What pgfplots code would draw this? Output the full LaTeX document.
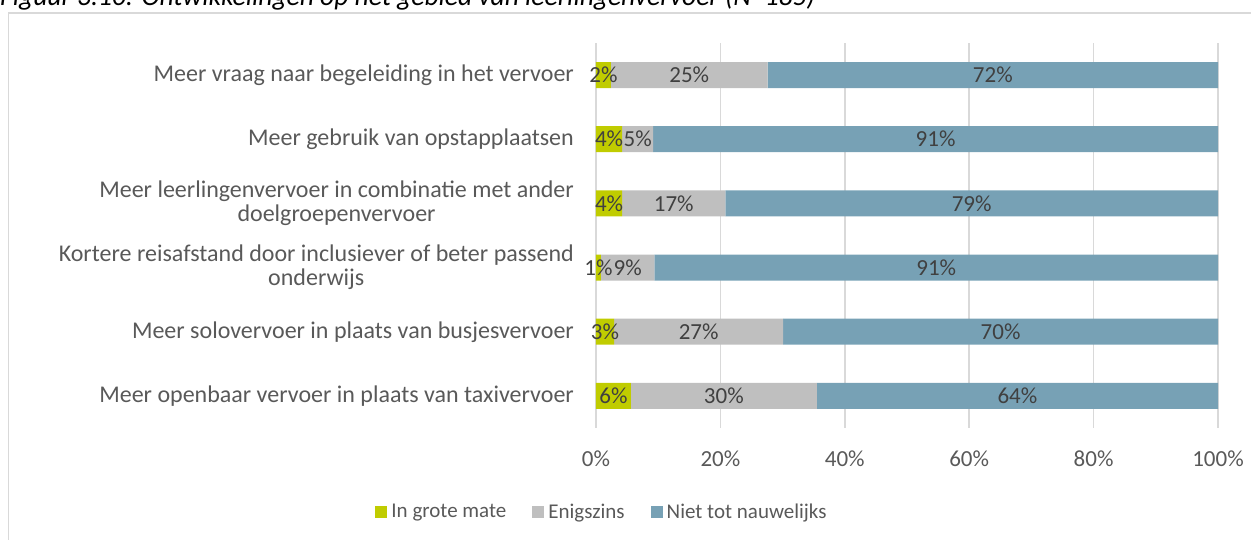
\documentclass[border=0pt]{standalone}
\usepackage{pgfplots}
\pgfplotsset{compat=1.18}
\usepackage{pgfplotstable}
\usepackage{fontspec}
\setmainfont{Carlito}
\definecolor{cgreen}{RGB}{192,204,0}
\definecolor{cgray}{RGB}{191,191,191}
\definecolor{cblue}{RGB}{119,161,181}
\definecolor{labgray}{RGB}{89,89,89}
\definecolor{datgray}{RGB}{64,64,64}
\definecolor{gridgray}{RGB}{217,217,217}
\pgfplotstableread{
y g e n gl el nl
5 2.4 25.2 72.4 2 25 72
4 4.2 5.0 90.8 4 5 91
3 4.2 16.6 79.2 4 17 79
2 0.8 8.6 90.6 1 9 91
1 2.9 27.2 69.9 3 27 70
0 5.6 29.9 64.5 6 30 64
}\data
\begin{document}
\begin{tikzpicture}[x=1pt,y=1pt]
\useasboundingbox (0,0) rectangle (1251,540);
\node[anchor=base west, inner sep=0pt, font=\fontsize{27.5}{30}\selectfont\itshape, text=black] at (0,534) {Figuur 3.10: Ontwikkelingen op het gebied van leerlingenvervoer (N=185)};
\draw[color=gridgray, line width=1.3pt] (8.5,-20) -- (8.5,527) -- (1270,527);
\begin{axis}[
  at={(596pt,112pt)}, anchor=south west,
  scale only axis, width=622pt, height=385pt,
  xbar stacked, bar width=26pt,
  xmin=0, xmax=100, ymin=-0.5, ymax=5.5,
  axis line style={draw=none},
  major tick length=0pt,
  xmajorgrids, grid style={gridgray, line width=1.5pt},
  xtick={0,20,40,60,80,100},
  xticklabel={\pgfmathprintnumber[assume math mode=true]{\tick}\%},
  xticklabel style={anchor=base, yshift=-39pt, inner sep=0pt, text=labgray, font=\fontsize{23}{26}\selectfont},
  ytick={0,1,2,3,4,5},
  yticklabels={Meer openbaar vervoer in plaats van taxivervoer,
    Meer solovervoer in plaats van busjesvervoer,
    {Kortere reisafstand door inclusiever of beter passend\\onderwijs},
    {Meer leerlingenvervoer in combinatie met ander\\doelgroepenvervoer},
    Meer gebruik van opstapplaatsen,
    Meer vraag naar begeleiding in het vervoer},
  yticklabel style={align=center, anchor=east, inner sep=0pt, xshift=-22pt, text=labgray, font=\fontsize{24}{24}\selectfont},
  point meta=explicit symbolic,
  nodes near coords={\pgfplotspointmeta\%},
  nodes near coords style={anchor=center, inner sep=0pt, text=datgray, font=\fontsize{23}{26}\selectfont},
  legend columns=3,
  legend style={at={(rel axis cs:0.01125,-0.2182)}, anchor=center, draw=none, fill=none,
    font=\fontsize{21}{24}\selectfont, text=labgray,
    nodes={inner xsep=4pt, inner ysep=0pt},
    /tikz/every even column/.append style={column sep=22pt},
    inner sep=0pt},
  legend image code/.code={\fill[#1] (0pt,-6pt) rectangle (12pt,6pt);},
]
\addplot[fill=cgreen, draw=none] table[x=g, y=y, meta=gl] {\data};
\addlegendentry{In grote mate}
\addplot[fill=cgray, draw=none] table[x=e, y=y, meta=el] {\data};
\addlegendentry{Enigszins}
\addplot[fill=cblue, draw=none] table[x=n, y=y, meta=nl] {\data};
\addlegendentry{Niet tot nauwelijks}
\end{axis}
\end{tikzpicture}
\end{document}
